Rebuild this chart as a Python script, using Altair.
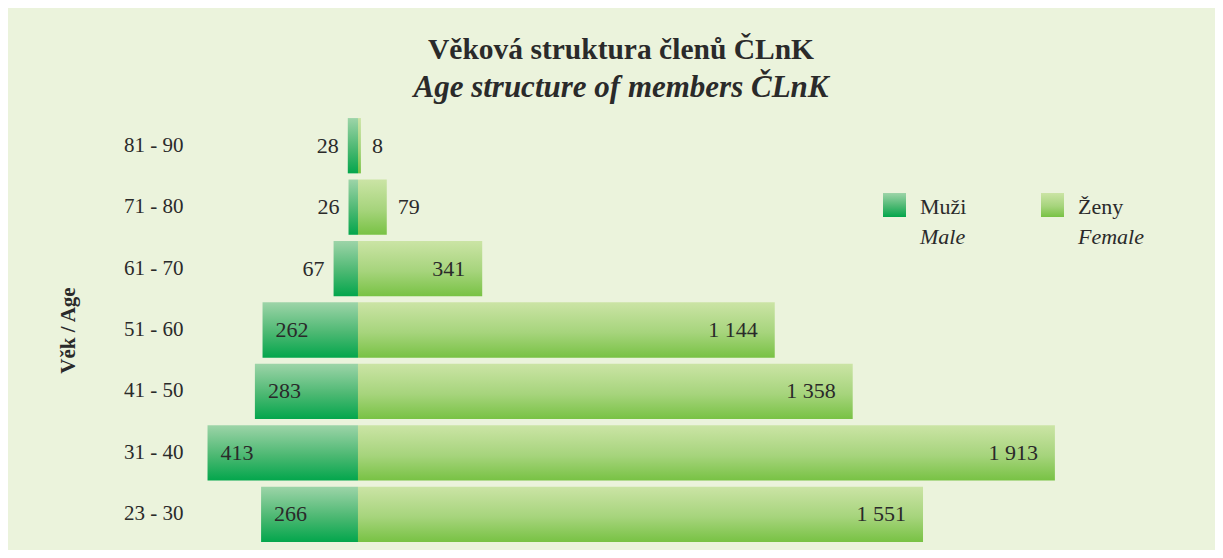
import altair as alt
import pandas as pd

ages = ["81 - 90", "71 - 80", "61 - 70", "51 - 60", "41 - 50", "31 - 40", "23 - 30"]
male = [28, 26, 67, 262, 283, 413, 266]
female = [8, 79, 341, 1144, 1358, 1913, 1551]
legend_cz = ["Muži", "Ženy"]
legend_en = ["Male", "Female"]

def fmt(v):
    return f"{v:,}".replace(",", " ")

rows = []
for a, m, f in zip(ages, male, female):
    rows.append({"age": a, "sex": "M", "value": m, "signed": -m, "label": fmt(m), "inside": bool(m >= 100)})
    rows.append({"age": a, "sex": "F", "value": f, "signed": f, "label": fmt(f), "inside": bool(f >= 100)})
df = pd.DataFrame(rows)

FONT = "Liberation Serif"
TXT = "#2a2a2a"
BG = "#ebf3dc"

male_grad = alt.LinearGradient(
    gradient="linear", x1=0, y1=0, x2=0, y2=1,
    stops=[alt.GradientStop(offset=0, color="#9dd4a8"),
           alt.GradientStop(offset=0.55, color="#4cb872"),
           alt.GradientStop(offset=1, color="#03a64c")])
female_grad = alt.LinearGradient(
    gradient="linear", x1=0, y1=0, x2=0, y2=1,
    stops=[alt.GradientStop(offset=0, color="#cbe4a5"),
           alt.GradientStop(offset=0.55, color="#a6d47c"),
           alt.GradientStop(offset=1, color="#78c244")])

xscale = alt.Scale(domain=[-447.4, 2352.5], nice=False, zero=False)
y = alt.Y("age:N", sort=ages,
          scale=alt.Scale(paddingInner=0.1, paddingOuter=0.05),
          axis=alt.Axis(title="Věk / Age", domain=False, ticks=False, labelPadding=12,
                        labelFont=FONT, labelFontSize=21, labelColor=TXT,
                        titleFont=FONT, titleFontSize=21, titleFontWeight="bold",
                        titleColor=TXT, titleAngle=-90, titleX=-127, titleY=215,
                        titleAlign="center", titleBaseline="middle"))

base = alt.Chart(df).encode(y=y)

bars_m = base.transform_filter(alt.datum.sex == "M").mark_bar(color=male_grad).encode(
    x=alt.X("signed:Q", scale=xscale, axis=None), x2=alt.datum(0))
bars_f = base.transform_filter(alt.datum.sex == "F").mark_bar(color=female_grad).encode(
    x=alt.X("signed:Q", scale=xscale, axis=None), x2=alt.datum(0))

tprops = dict(font=FONT, fontSize=22, color=TXT, baseline="middle")
tx = alt.X("signed:Q", scale=xscale, axis=None)
m_out = base.transform_filter((alt.datum.sex == "M") & (~alt.datum.inside)).mark_text(
    align="right", dx=-9, **tprops).encode(x=tx, text="label:N")
m_in = base.transform_filter((alt.datum.sex == "M") & (alt.datum.inside)).mark_text(
    align="left", dx=13, **tprops).encode(x=tx, text="label:N")
f_out = base.transform_filter((alt.datum.sex == "F") & (~alt.datum.inside)).mark_text(
    align="left", dx=11, **tprops).encode(x=tx, text="label:N")
f_in = base.transform_filter((alt.datum.sex == "F") & (alt.datum.inside)).mark_text(
    align="right", dx=-17, **tprops).encode(x=tx, text="label:N")

def legend_item(i, grad, x0):
    d = pd.DataFrame({"cz": [legend_cz[i]], "en": [legend_en[i]]})
    sq = alt.Chart(d).mark_rect(color=grad).encode(
        x=alt.value(x0), x2=alt.value(x0 + 23), y=alt.value(78), y2=alt.value(102))
    t1 = alt.Chart(d).mark_text(align="left", font=FONT, fontSize=22, color=TXT, baseline="middle").encode(
        x=alt.value(x0 + 37), y=alt.value(92), text="cz:N")
    t2 = alt.Chart(d).mark_text(align="left", font=FONT, fontSize=22, fontStyle="italic",
                                color=TXT, baseline="middle").encode(
        x=alt.value(x0 + 37), y=alt.value(122), text="en:N")
    return [sq, t1, t2]

legend_layers = legend_item(0, male_grad, 688) + legend_item(1, female_grad, 846)

chart = alt.layer(bars_m, bars_f, m_out, m_in, f_out, f_in, *legend_layers).properties(
    width=1020, height=430,
    padding={"left": 187, "top": 107, "right": 0, "bottom": 5},
    autosize=alt.AutoSizeParams(type="none"),
    background=BG,
    title=alt.TitleParams(
        text="Věková struktura členů ČLnK",
        subtitle="Age structure of members ČLnK",
        font=FONT, fontSize=29.5, fontWeight="bold", color=TXT,
        subtitleFont=FONT, subtitleFontSize=31, subtitleFontStyle="italic",
        subtitleFontWeight="bold",
        subtitleColor=TXT, subtitlePadding=8,
        anchor="middle", frame="group", dx=-84, offset=11),
).configure_view(stroke=None)

chart.save("out.html", embed_options={"renderer": "svg", "actions": False})
